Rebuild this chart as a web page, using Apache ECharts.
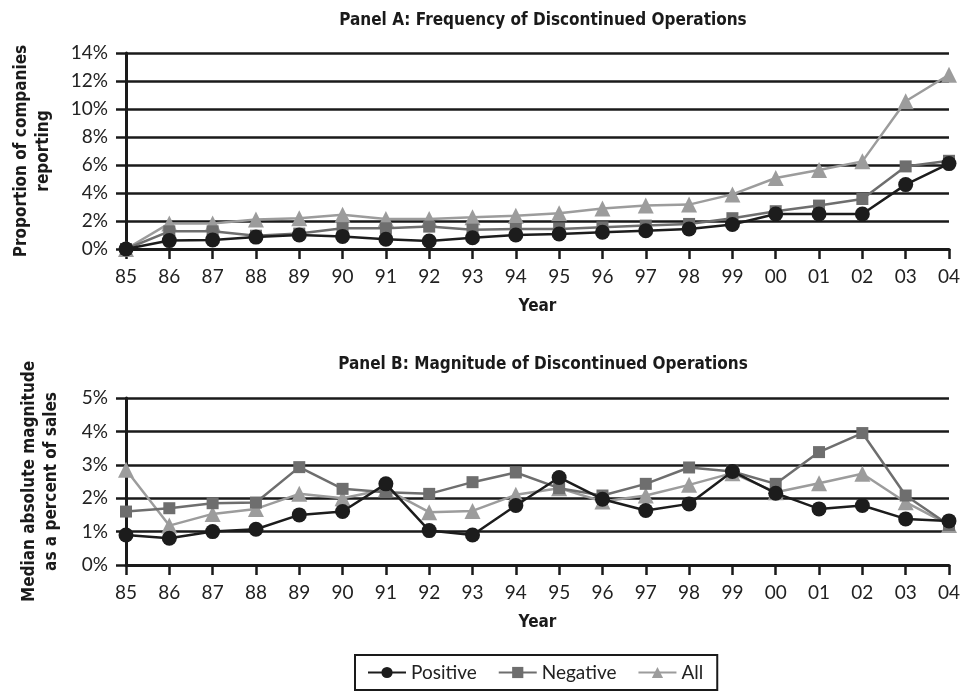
<!DOCTYPE html>
<html>
<head>
<meta charset="utf-8">
<script src="https://cdn.jsdelivr.net/npm/echarts@6/dist/echarts.min.js"></script>
<style>html,body{margin:0;padding:0;background:#fff;}#c{width:963px;height:696px;}</style>
</head>
<body>
<div id="c"></div>
<script>
const years = ['85','86','87','88','89','90','91','92','93','94','95','96','97','98','99','00','01','02','03','04'];
const seriesNames = ['Positive','Negative','All'];
// Panel A: Frequency (%)
const freqPositive = [0, 0.6, 0.65, 0.85, 1.0, 0.9, 0.7, 0.57, 0.8, 1.0, 1.07, 1.2, 1.3, 1.43, 1.75, 2.5, 2.5, 2.5, 4.6, 6.1];
const freqNegative = [0, 1.26, 1.26, 0.95, 1.1, 1.48, 1.48, 1.6, 1.38, 1.43, 1.43, 1.55, 1.67, 1.79, 2.2, 2.7, 3.1, 3.57, 5.9, 6.3];
const freqAll      = [0, 1.83, 1.83, 2.1, 2.2, 2.45, 2.15, 2.15, 2.26, 2.38, 2.55, 2.9, 3.1, 3.17, 3.9, 5.07, 5.64, 6.26, 10.55, 12.45];
// Panel B: Magnitude (%)
const magPositive = [0.9, 0.8, 1.0, 1.07, 1.5, 1.6, 2.43, 1.03, 0.9, 1.78, 2.62, 1.97, 1.63, 1.83, 2.8, 2.15, 1.68, 1.78, 1.38, 1.32];
const magNegative = [1.6, 1.7, 1.85, 1.87, 2.93, 2.28, 2.18, 2.13, 2.48, 2.77, 2.3, 2.08, 2.43, 2.92, 2.8, 2.43, 3.38, 3.95, 2.08, 1.2];
const magAll      = [2.85, 1.18, 1.53, 1.68, 2.13, 2.0, 2.27, 1.58, 1.62, 2.1, 2.3, 1.9, 2.08, 2.4, 2.75, 2.18, 2.45, 2.73, 1.88, 1.2];
const titleA = 'Panel A: Frequency of Discontinued Operations';
const titleB = 'Panel B: Magnitude of Discontinued Operations';
const yNameA = 'Proportion of companies\nreporting';
const yNameB = 'Median absolute magnitude\nas a percent of sales';
const xName = 'Year';

const colors = ['#1c1c1c', '#6e6e6e', '#9c9c9c'];
const symbols = ['circle', 'rect', 'triangle'];
const symbolSizes = [15, 12, 16];
const condFont = '"Liberation Sans Narrow", "DejaVu Sans Condensed", sans-serif';
const tickFont = 'Lato, "Noto Sans", sans-serif';

function xAxis(gi) {
  return {
    type: 'category', gridIndex: gi, data: years, boundaryGap: false,
    axisLine: {show: true, lineStyle: {color: '#1a1a1a', width: 3}},
    axisTick: {show: true, length: 10, alignWithLabel: true, lineStyle: {color: '#1a1a1a', width: 2.5}},
    axisLabel: {color: '#222', fontFamily: tickFont, fontSize: 19, margin: 18},
    name: xName, nameLocation: 'middle', nameGap: 49,
    nameTextStyle: {color: '#1a1a1a', fontFamily: condFont, fontWeight: 'bold', fontSize: 17, verticalAlign: 'top'}
  };
}
function yAxis(gi, max, interval, name, gap) {
  return {
    type: 'value', gridIndex: gi, min: 0, max: max, interval: interval,
    axisLine: {show: true, lineStyle: {color: '#1a1a1a', width: 3}},
    axisTick: {show: true, length: 10, lineStyle: {color: '#1a1a1a', width: 2.5}},
    splitLine: {show: true, lineStyle: {color: '#1a1a1a', width: 2.5}},
    axisLabel: {color: '#222', fontFamily: tickFont, fontSize: 19, margin: 18, formatter: '{value}%'},
    name: name, nameLocation: 'middle', nameGap: gap, nameRotate: 90,
    nameTextStyle: {color: '#1a1a1a', fontFamily: condFont, fontWeight: 'bold', fontSize: 17, lineHeight: 22, align: 'center'}
  };
}
function mkSeries(name, idx, data, gi) {
  return {
    name: name, type: 'line', xAxisIndex: gi, yAxisIndex: gi, data: data,
    symbol: symbols[idx], symbolSize: symbolSizes[idx], showAllSymbol: true,
    lineStyle: {color: colors[idx], width: 2.5},
    itemStyle: {color: colors[idx]},
    z: 10 - idx, animation: false
  };
}

const chart = echarts.init(document.getElementById('c'), null, {renderer: 'canvas'});
chart.setOption({
  backgroundColor: '#fff',
  animation: false,
  title: [
    {text: titleA, left: 538, top: 7, textAlign: 'center',
     textStyle: {fontFamily: condFont, fontWeight: 'bold', fontSize: 17, color: '#1a1a1a'}},
    {text: titleB, left: 538, top: 351, textAlign: 'center',
     textStyle: {fontFamily: condFont, fontWeight: 'bold', fontSize: 17, color: '#1a1a1a'}}
  ],
  grid: [
    {left: 126, right: 13, top: 53, height: 196},
    {left: 126, right: 13, top: 398, height: 167}
  ],
  xAxis: [xAxis(0), xAxis(1)],
  yAxis: [yAxis(0, 14, 2, yNameA, 71), yAxis(1, 5, 1, yNameB, 63)],
  legend: {
    data: seriesNames, left: 355, top: 655,
    borderColor: '#1a1a1a', borderWidth: 2, padding: [8, 14, 8, 12],
    itemWidth: 38, itemHeight: 14, itemGap: 21,
    textStyle: {fontFamily: tickFont, fontSize: 19, color: '#222'}
  },
  series: [
    mkSeries(seriesNames[0], 0, freqPositive, 0),
    mkSeries(seriesNames[1], 1, freqNegative, 0),
    mkSeries(seriesNames[2], 2, freqAll, 0),
    mkSeries(seriesNames[0], 0, magPositive, 1),
    mkSeries(seriesNames[1], 1, magNegative, 1),
    mkSeries(seriesNames[2], 2, magAll, 1)
  ]
});
</script>
</body>
</html>
